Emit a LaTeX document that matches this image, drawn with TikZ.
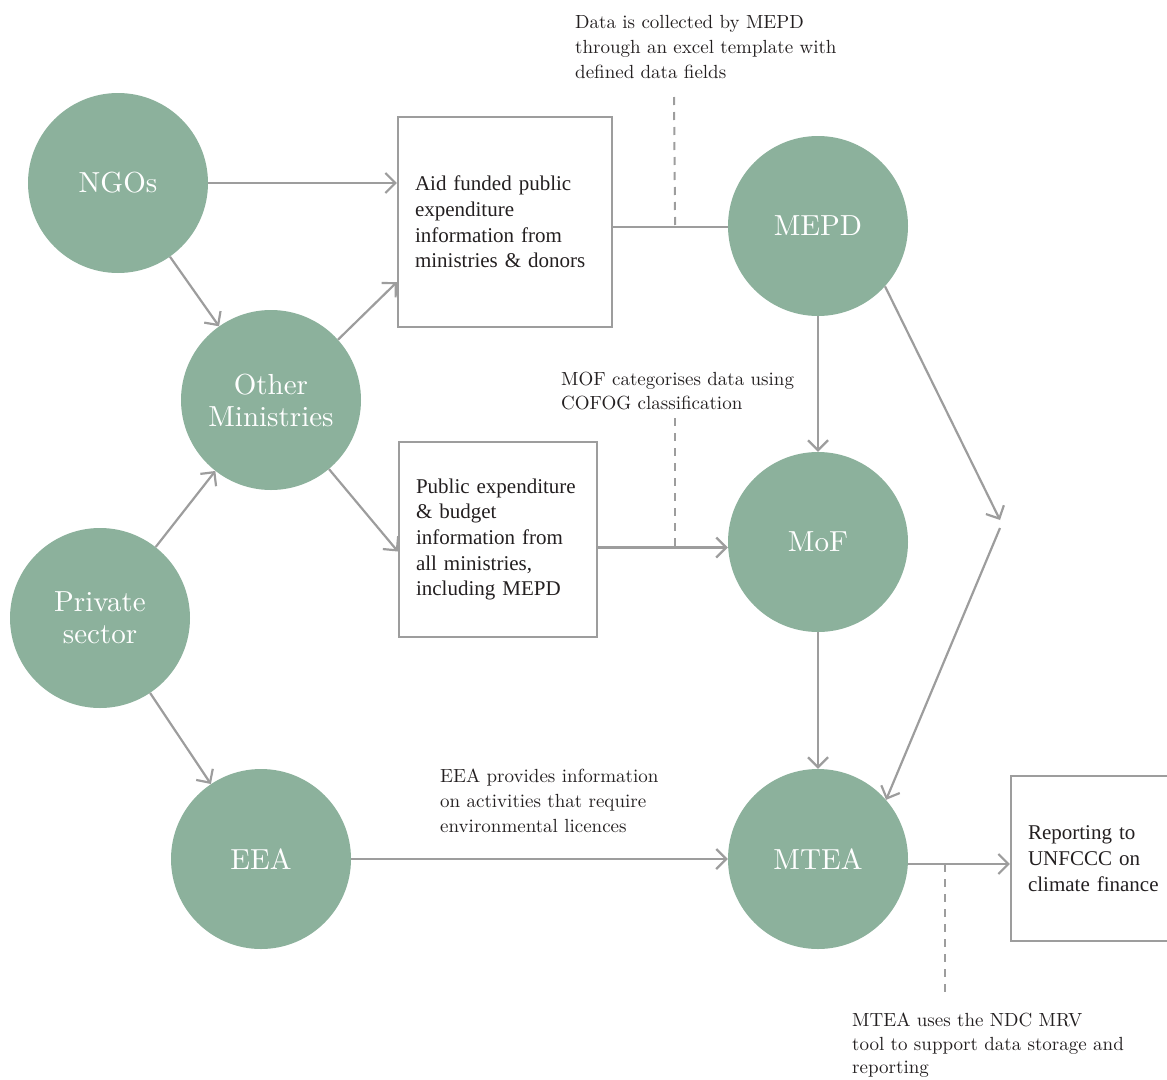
\documentclass[tikz,border=0pt]{standalone}
\usepackage{fontspec}
\newfontfamily\boxfont{Liberation Serif}
\newfontfamily\labelfont{lmroman10-regular.otf}
\usetikzlibrary{arrows.meta,calc}
\definecolor{sage}{HTML}{8CB19C}
\definecolor{wire}{HTML}{9D9D9D}
\definecolor{ink}{HTML}{231F20}
\begin{document}
\begin{tikzpicture}[x=1pt,y=-1pt,
  agency/.style={circle,fill=sage,draw=none,minimum size=180pt,inner sep=0pt,
    text=white,align=center,font=\labelfont\fontsize{29}{32}\selectfont},
  infobox/.style={draw=wire,line width=2.2pt,inner xsep=17pt,inner ysep=0pt,
    align=left,text=ink,font=\boxfont\fontsize{21}{25.7}\selectfont},
  note/.style={anchor=north west,inner sep=0pt,align=left,text=ink},
  flow/.style={draw=wire,line width=2.2pt,-{Straight Barb[length=10pt,width=20pt]}},
  link/.style={draw=wire,line width=2.2pt},
  leader/.style={draw=wire,line width=2pt,dash pattern=on 8pt off 7pt},
]
\useasboundingbox (0,0) rectangle (1167,1079);

% agencies
\node[agency] (ngo)  at (118,183) {NGOs};
\node[agency] (om)   at (271,400) {Other\\Ministries};
\node[agency] (ps)   at (100,618) {Private\\sector};
\node[agency] (eea)  at (261,859) {EEA};
\node[agency] (mepd) at (818,226) {MEPD};
\node[agency] (mof)  at (818,542) {MoF};
\node[agency] (mtea) at (818,859) {MTEA};

% information boxes
\node[infobox,text width=180pt,minimum height=210pt] (aid) at (505,222)
  {Aid funded public\\expenditure\\information from\\ministries \& donors};
\node[infobox,text width=164pt,minimum height=195pt] (pub) at (498,539.5)
  {Public expenditure\\\& budget\\information from\\all ministries,\\including MEPD};
\node[infobox,text width=146pt,minimum height=165pt] (rep) at (1101,858.5)
  {Reporting to\\UNFCCC on\\climate finance};

% notes
\node[note,font=\labelfont\fontsize{19}{25}\selectfont] (n1) at (575,15)
  {Data is collected by MEPD\\through an excel template with\\defined data fields};
\node[note,font=\labelfont\fontsize{19}{24}\selectfont] (n2) at (561,372)
  {MOF categorises data using\\COFOG classification};
\node[note,font=\labelfont\fontsize{19}{25}\selectfont] (n3) at (440,769)
  {EEA provides information\\on activities that require\\environmental licences};
\node[note,font=\labelfont\fontsize{19}{23.5}\selectfont] (n4) at (852,1013)
  {MTEA uses the NDC MRV\\tool to support data storage and\\reporting};

% flows
\draw[flow] (ngo) -- (ngo -| aid.west);
\draw[flow] (ngo) -- (om);
\draw[flow] (om.42) -- ($(aid.south west)+(0,-46)$);
\draw[flow] (om.-50) -- ($(pub.west)+(0,12)$);
\draw[flow] (ps) -- (om);
\draw[flow] (ps) -- (eea);

\coordinate (in1) at ($(aid.east |- mepd.west)+(0,1)$);
\draw[link] (in1) -- (in1 -| mepd.west);
\coordinate (tap1) at ($(in1)+(62,0)$);
\coordinate (foot1) at (674,97);
\draw[leader] (foot1) -- (tap1);

\coordinate (in2) at ($(pub.east)+(0,8)$);
\draw[flow] (in2) -- (in2 -| mof.west);
\coordinate (tap2) at ($(in2)+(77,0)$);
\coordinate (foot2) at (tap2 |- 0,418);
\draw[leader] (foot2) -- (tap2);

\draw[flow] (mepd) -- (mof);
\coordinate (kneeA) at (1000,520);
\coordinate (kneeB) at (1000,528);
\draw[flow] (mepd.-42) -- (kneeA);
\draw[flow] (kneeB) -- (mtea.41);
\draw[flow] (mof) -- (mtea);
\draw[flow] (eea) -- (mtea);

\coordinate (out) at ($(mtea.east)+(0,5)$);
\draw[flow] (out) -- (out -| rep.west);
\coordinate (tap3) at ($(out)+(37,0)$);
\coordinate (foot3) at (tap3 |- 0,995);
\draw[leader] (tap3) -- (foot3);
\end{tikzpicture}
\end{document}
